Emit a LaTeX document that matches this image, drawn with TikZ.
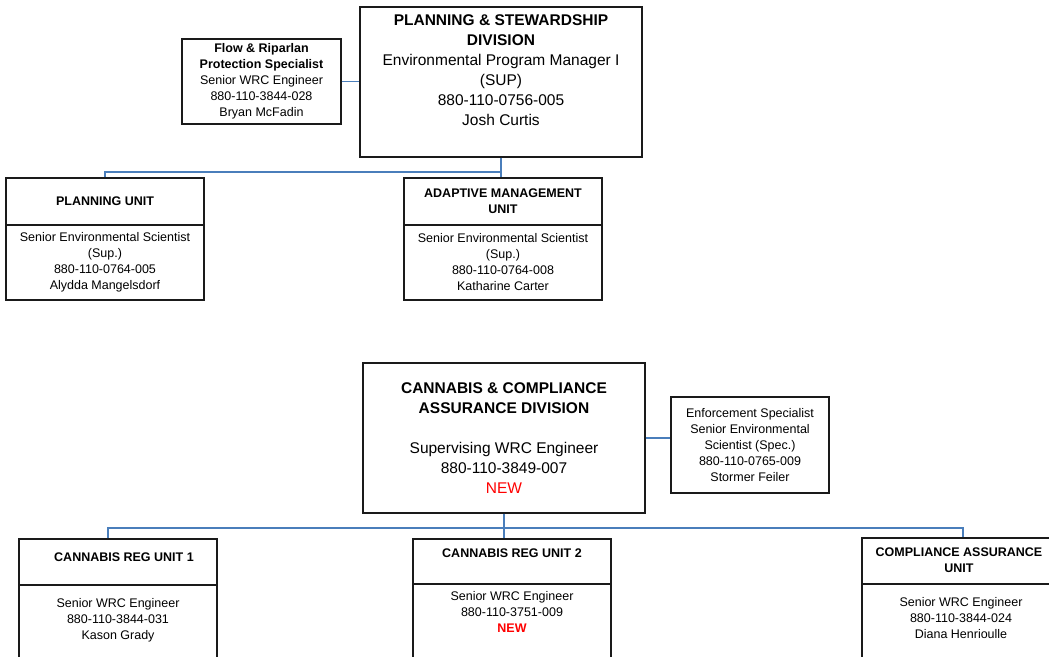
\documentclass[tikz,border=0pt]{standalone}
\usepackage{fontspec}
\setmainfont{Liberation Sans}
\definecolor{linkblue}{HTML}{4A7EBB}
\definecolor{boxline}{HTML}{1A1A1A}
\tikzset{
  box/.style={draw=boxline, line width=1.2pt, inner sep=0pt, align=center},
  bigtext/.style={font=\fontsize{15.5}{20}\selectfont, align=center, inner sep=0pt},
  smalltext/.style={font=\fontsize{12.5}{16}\selectfont, align=center, inner sep=0pt},
  unitbox/.style={box, minimum width=198pt},
  link/.style={draw=linkblue, line width=1.2pt}
}
\begin{document}
\begin{tikzpicture}[x=1pt,y=-1pt]
  \useasboundingbox (0,0) rectangle (1049,656);
  \clip (0,0) rectangle (1049,656);
  % planning & stewardship
  \node[box, minimum width=282pt, minimum height=150pt] (psdiv) at (501,82) {};
  \node[bigtext] (psdivtext) at (501,70)
    {\textbf{PLANNING \& STEWARDSHIP}\\\textbf{DIVISION}\\Environmental Program Manager I\\(SUP)\\880-110-0756-005\\Josh Curtis};
  \node[box, smalltext, minimum width=159pt, minimum height=85pt] (flow) at (261.5,81.5)
    {\textbf{Flow \& Riparlan}\\\textbf{Protection Specialist}\\Senior WRC Engineer\\880-110-3844-028\\Bryan McFadin};
  \node[unitbox, smalltext, minimum height=47pt] (planhead) at (105,201.5) {\textbf{PLANNING UNIT}};
  \node[unitbox, smalltext, minimum height=75pt] (planbody) at (105,262.5)
    {Senior Environmental Scientist\\(Sup.)\\880-110-0764-005\\Alydda Mangelsdorf};
  \node[unitbox, smalltext, minimum height=47pt] (adaphead) at (503,201.5)
    {\textbf{ADAPTIVE MANAGEMENT}\\\textbf{UNIT}};
  \node[unitbox, smalltext, minimum height=75pt] (adapbody) at (503,262.5)
    {Senior Environmental Scientist\\(Sup.)\\880-110-0764-008\\Katharine Carter};
  \coordinate (psjoin) at (501,172);
  \begin{scope}[link]
    \draw (flow.east) -- (flow.east -| psdiv.west);
    \draw (psdiv.south) -- (psdiv.south |- adaphead.north);
    \draw (psjoin) -| (planhead.north);
  \end{scope}
  % cannabis & compliance
  \node[box, bigtext, minimum width=282pt, minimum height=150pt] (ccdiv) at (504,438)
    {\textbf{CANNABIS \& COMPLIANCE}\\\textbf{ASSURANCE DIVISION}\\[20pt]Supervising WRC Engineer\\880-110-3849-007\\\textcolor{red}{NEW}};
  \node[box, smalltext, minimum width=158pt, minimum height=96pt] (enf) at (750,445)
    {Enforcement Specialist\\Senior Environmental\\Scientist (Spec.)\\880-110-0765-009\\Stormer Feiler};
  \node[unitbox, minimum height=46pt] (reg1head) at (118,562) {};
  \node[unitbox, minimum height=95pt] (reg1body) at (118,632.5) {};
  \node[unitbox, minimum height=45pt] (reg2head) at (512,561.5) {};
  \node[unitbox, minimum height=96pt] (reg2body) at (512,632) {};
  \node[unitbox, minimum height=46pt] (comphead) at (961,561) {};
  \node[unitbox, minimum height=96pt] (compbody) at (961,632) {};
  \node[smalltext] (reg1title) at (124,557) {\textbf{CANNABIS REG UNIT 1}};
  \node[smalltext] (reg1text) at (118,620) {Senior WRC Engineer\\880-110-3844-031\\Kason Grady};
  \node[smalltext] (reg2title) at (512,553) {\textbf{CANNABIS REG UNIT 2}};
  \node[smalltext] (reg2text) at (512,612)
    {Senior WRC Engineer\\880-110-3751-009\\\textcolor{red}{\textbf{NEW}}};
  \node[smalltext] (comptitle) at (959,560) {\textbf{COMPLIANCE ASSURANCE}\\\textbf{UNIT}};
  \node[smalltext] (comptext) at (961,618) {Senior WRC Engineer\\880-110-3844-024\\Diana Henrioulle};
  \coordinate (busleft) at (108,528);
  \coordinate (busright) at (963,528);
  \begin{scope}[link]
    \draw (ccdiv.east) -- (ccdiv.east -| enf.west);
    \draw[line width=2pt] (ccdiv.south) -- (ccdiv.south |- reg2head.north);
    \draw (busleft |- reg1head.north) -- (busleft) -- (busright) -- (busright |- comphead.north);
  \end{scope}
\end{tikzpicture}
\end{document}
